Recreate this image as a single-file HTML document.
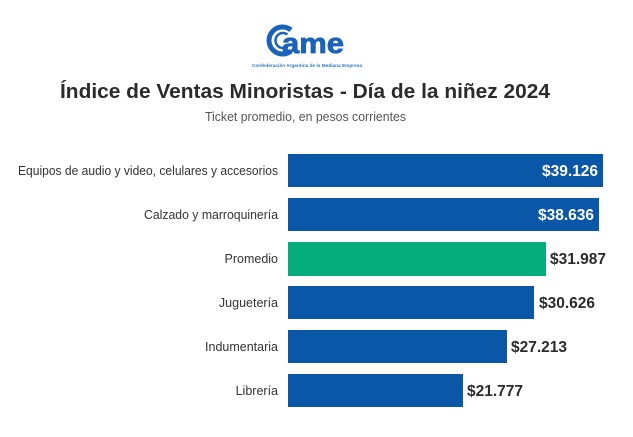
<!DOCTYPE html>
<html><head><meta charset="utf-8"><style>
html,body{margin:0;padding:0;background:#fff;}
svg{display:block;}
</style></head><body>
<svg width="633" height="437" viewBox="0 0 633 437" xmlns="http://www.w3.org/2000/svg" font-family="Liberation Sans, sans-serif">
<rect width="633" height="437" fill="#fff"/>
<!-- Logo -->
<g fill="none" stroke="#1a63b8">
  <path d="M 291 30 A 13.5 13.5 0 1 0 291 51" stroke-width="5"/>
  <path d="M 287.5 34.5 A 7.5 7.5 0 1 0 287.5 46.5" stroke-width="2.5"/>
</g>
<text x="282" y="53" font-size="29" font-weight="bold" fill="#1a63b8" stroke="#1a63b8" stroke-width="0.8" textLength="62" lengthAdjust="spacingAndGlyphs">ame</text>
<text x="252" y="67" font-size="4.5" font-weight="bold" fill="#2a78c8" textLength="110" lengthAdjust="spacingAndGlyphs">Confederación Argentina de la Mediana Empresa</text>
<!-- Title -->
<text x="60" y="98" font-size="20.5" font-weight="bold" fill="#2b2b2b" textLength="490" lengthAdjust="spacingAndGlyphs">Índice de Ventas Minoristas - Día de la niñez 2024</text>
<text x="205" y="121" font-size="12.5" fill="#555" textLength="201" lengthAdjust="spacingAndGlyphs">Ticket promedio, en pesos corrientes</text>
<!-- Labels -->
<g font-size="12.5" fill="#333" text-anchor="end">
  <text x="278" y="175" textLength="260" lengthAdjust="spacingAndGlyphs">Equipos de audio y video, celulares y accesorios</text>
  <text x="278" y="219" textLength="134" lengthAdjust="spacingAndGlyphs">Calzado y marroquinería</text>
  <text x="278" y="263">Promedio</text>
  <text x="278" y="307">Juguetería</text>
  <text x="278" y="351">Indumentaria</text>
  <text x="278" y="395">Librería</text>
</g>
<!-- Bars -->
<rect x="288" y="154" width="315" height="33" fill="#0a57a8"/>
<rect x="288" y="198" width="311" height="33" fill="#0a57a8"/>
<rect x="288" y="242" width="258" height="34" fill="#04ad7b"/>
<rect x="288" y="286" width="246" height="33" fill="#0a57a8"/>
<rect x="288" y="330" width="219" height="33" fill="#0a57a8"/>
<rect x="288" y="374" width="175" height="33" fill="#0a57a8"/>
<!-- Values -->
<g font-size="15.5" font-weight="bold">
  <text x="598" y="176" fill="#fff" text-anchor="end">$39.126</text>
  <text x="594" y="220" fill="#fff" text-anchor="end">$38.636</text>
  <text x="550" y="264" fill="#2b2b2b">$31.987</text>
  <text x="539" y="308" fill="#2b2b2b">$30.626</text>
  <text x="511" y="352" fill="#2b2b2b">$27.213</text>
  <text x="467" y="396" fill="#2b2b2b">$21.777</text>
</g>
</svg>
</body></html>
